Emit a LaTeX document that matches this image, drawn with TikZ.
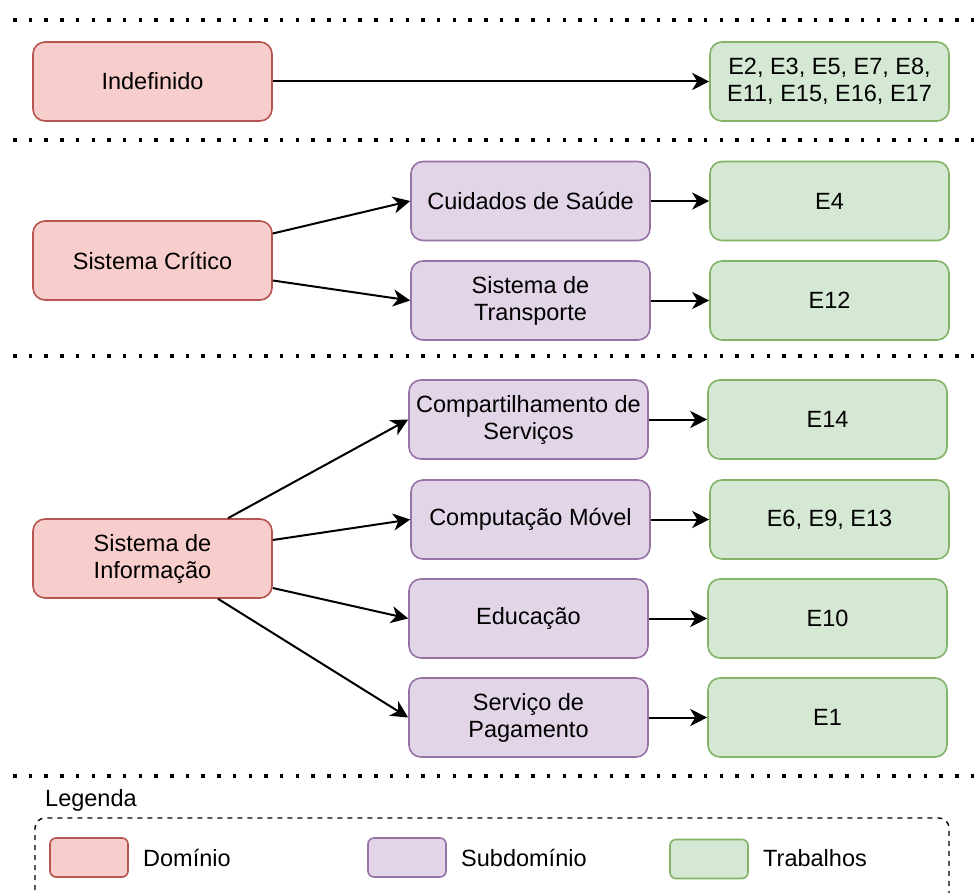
\documentclass[tikz,border=0pt]{standalone}
\usepackage{fontspec}
\setmainfont{Liberation Sans}
\usetikzlibrary{arrows.meta}

\definecolor{domfill}{HTML}{F8CECC}
\definecolor{domline}{HTML}{B85450}
\definecolor{subfill}{HTML}{E1D5E7}
\definecolor{subline}{HTML}{9673A6}
\definecolor{trabfill}{HTML}{D5E8D4}
\definecolor{trabline}{HTML}{82B366}

\tikzset{
  box/.style={rounded corners=12pt, line width=1.6pt, minimum width=239pt,
    minimum height=79pt, inner sep=0pt, align=center,
    font=\fontsize{23.5pt}{27pt}\selectfont},
  dombox/.style={box, draw=domline, fill=domfill},
  subbox/.style={box, draw=subline, fill=subfill},
  trabbox/.style={box, draw=trabline, fill=trabfill},
  keybox/.style={rounded corners=6pt, line width=1.6pt, minimum width=78pt,
    minimum height=39pt, inner sep=0pt},
  keytext/.style={anchor=west, inner sep=0pt, font=\fontsize{23.5pt}{27pt}\selectfont},
  link/.style={line width=2pt, -{Stealth[length=17pt, width=17pt, inset=5pt]}},
  separator/.style={line width=3.5pt, dash pattern=on 3.5pt off 12.2pt},
}

\begin{document}
\begin{tikzpicture}[x=1pt, y=-1pt]
\useasboundingbox (0,0) rectangle (976,893);

% section separators
\foreach \yy in {20,140,356,776}
  \draw[separator] (13,\yy) -- (974,\yy);

% domains
\node[dombox] (ind) at (152.5,81.5) {Indefinido};
\node[dombox] (crit) at (152.5,260.5) {Sistema Crítico};
\node[dombox] (info) at (152.5,558.5) {Sistema de\\Informação};

% subdomains
\node[subbox] (saude) at (530.5,201) {Cuidados de Saúde};
\node[subbox] (transp) at (530.5,300.5) {Sistema de\\Transporte};
\node[subbox] (compart) at (528.5,419.5) {Compartilhamento de\\Serviços};
\node[subbox] (movel) at (530.5,519.5) {Computação Móvel};
\node[subbox] (educ) at (528.5,618.5) {Educação};
\node[subbox] (pag) at (528.5,717.5) {Serviço de\\Pagamento};

% works
\node[trabbox] (wind) at (829.5,81.5) {E2, E3, E5, E7, E8,\\E11, E15, E16, E17};
\node[trabbox] (w4) at (829.5,201) {E4};
\node[trabbox] (w12) at (829.5,300.5) {E12};
\node[trabbox] (w14) at (827.5,419.5) {E14};
\node[trabbox] (w6) at (829.5,519.5) {E6, E9, E13};
\node[trabbox] (w10) at (827.5,618.5) {E10};
\node[trabbox] (w1) at (827.5,717.5) {E1};

% domain -> subdomain / work
\draw[link] (ind.east) -- (wind.west);
\draw[link] ([yshift=27pt]crit.east) -- (saude.west);
\draw[link] ([yshift=-20pt]crit.east) -- (transp.west);
\draw[link] ([xshift=75.5pt]info.north) -- (compart.west);
\draw[link] ([yshift=18.5pt]info.east) -- (movel.west);
\draw[link] ([yshift=-29.5pt]info.east) -- (educ.west);
\draw[link] ([xshift=65.5pt]info.south) -- (pag.west);

% subdomain -> work
\draw[link] (saude.east) -- (w4.west);
\draw[link] (transp.east) -- (w12.west);
\draw[link] (compart.east) -- (w14.west);
\draw[link] (movel.east) -- (w6.west);
\draw[link] (educ.east) -- (w10.west);
\draw[link] (pag.east) -- (w1.west);

% key
\node[keytext] (keytitle) at (45,800) {Legenda};
\draw[line width=1.4pt, dash pattern=on 5pt off 5pt, rounded corners=10pt]
  (35,900) -- (35,818) -- (949,818) -- (949,900);
\node[keybox, draw=domline, fill=domfill] (kdom) at (89,857.5) {};
\node[keytext] (kdomt) at (143,858) {Domínio};
\node[keybox, draw=subline, fill=subfill] (ksub) at (407,857.5) {};
\node[keytext] (ksubt) at (461,858) {Subdomínio};
\node[keybox, draw=trabline, fill=trabfill] (ktrab) at (709,859) {};
\node[keytext] (ktrabt) at (763,858) {Trabalhos};
\end{tikzpicture}
\end{document}
